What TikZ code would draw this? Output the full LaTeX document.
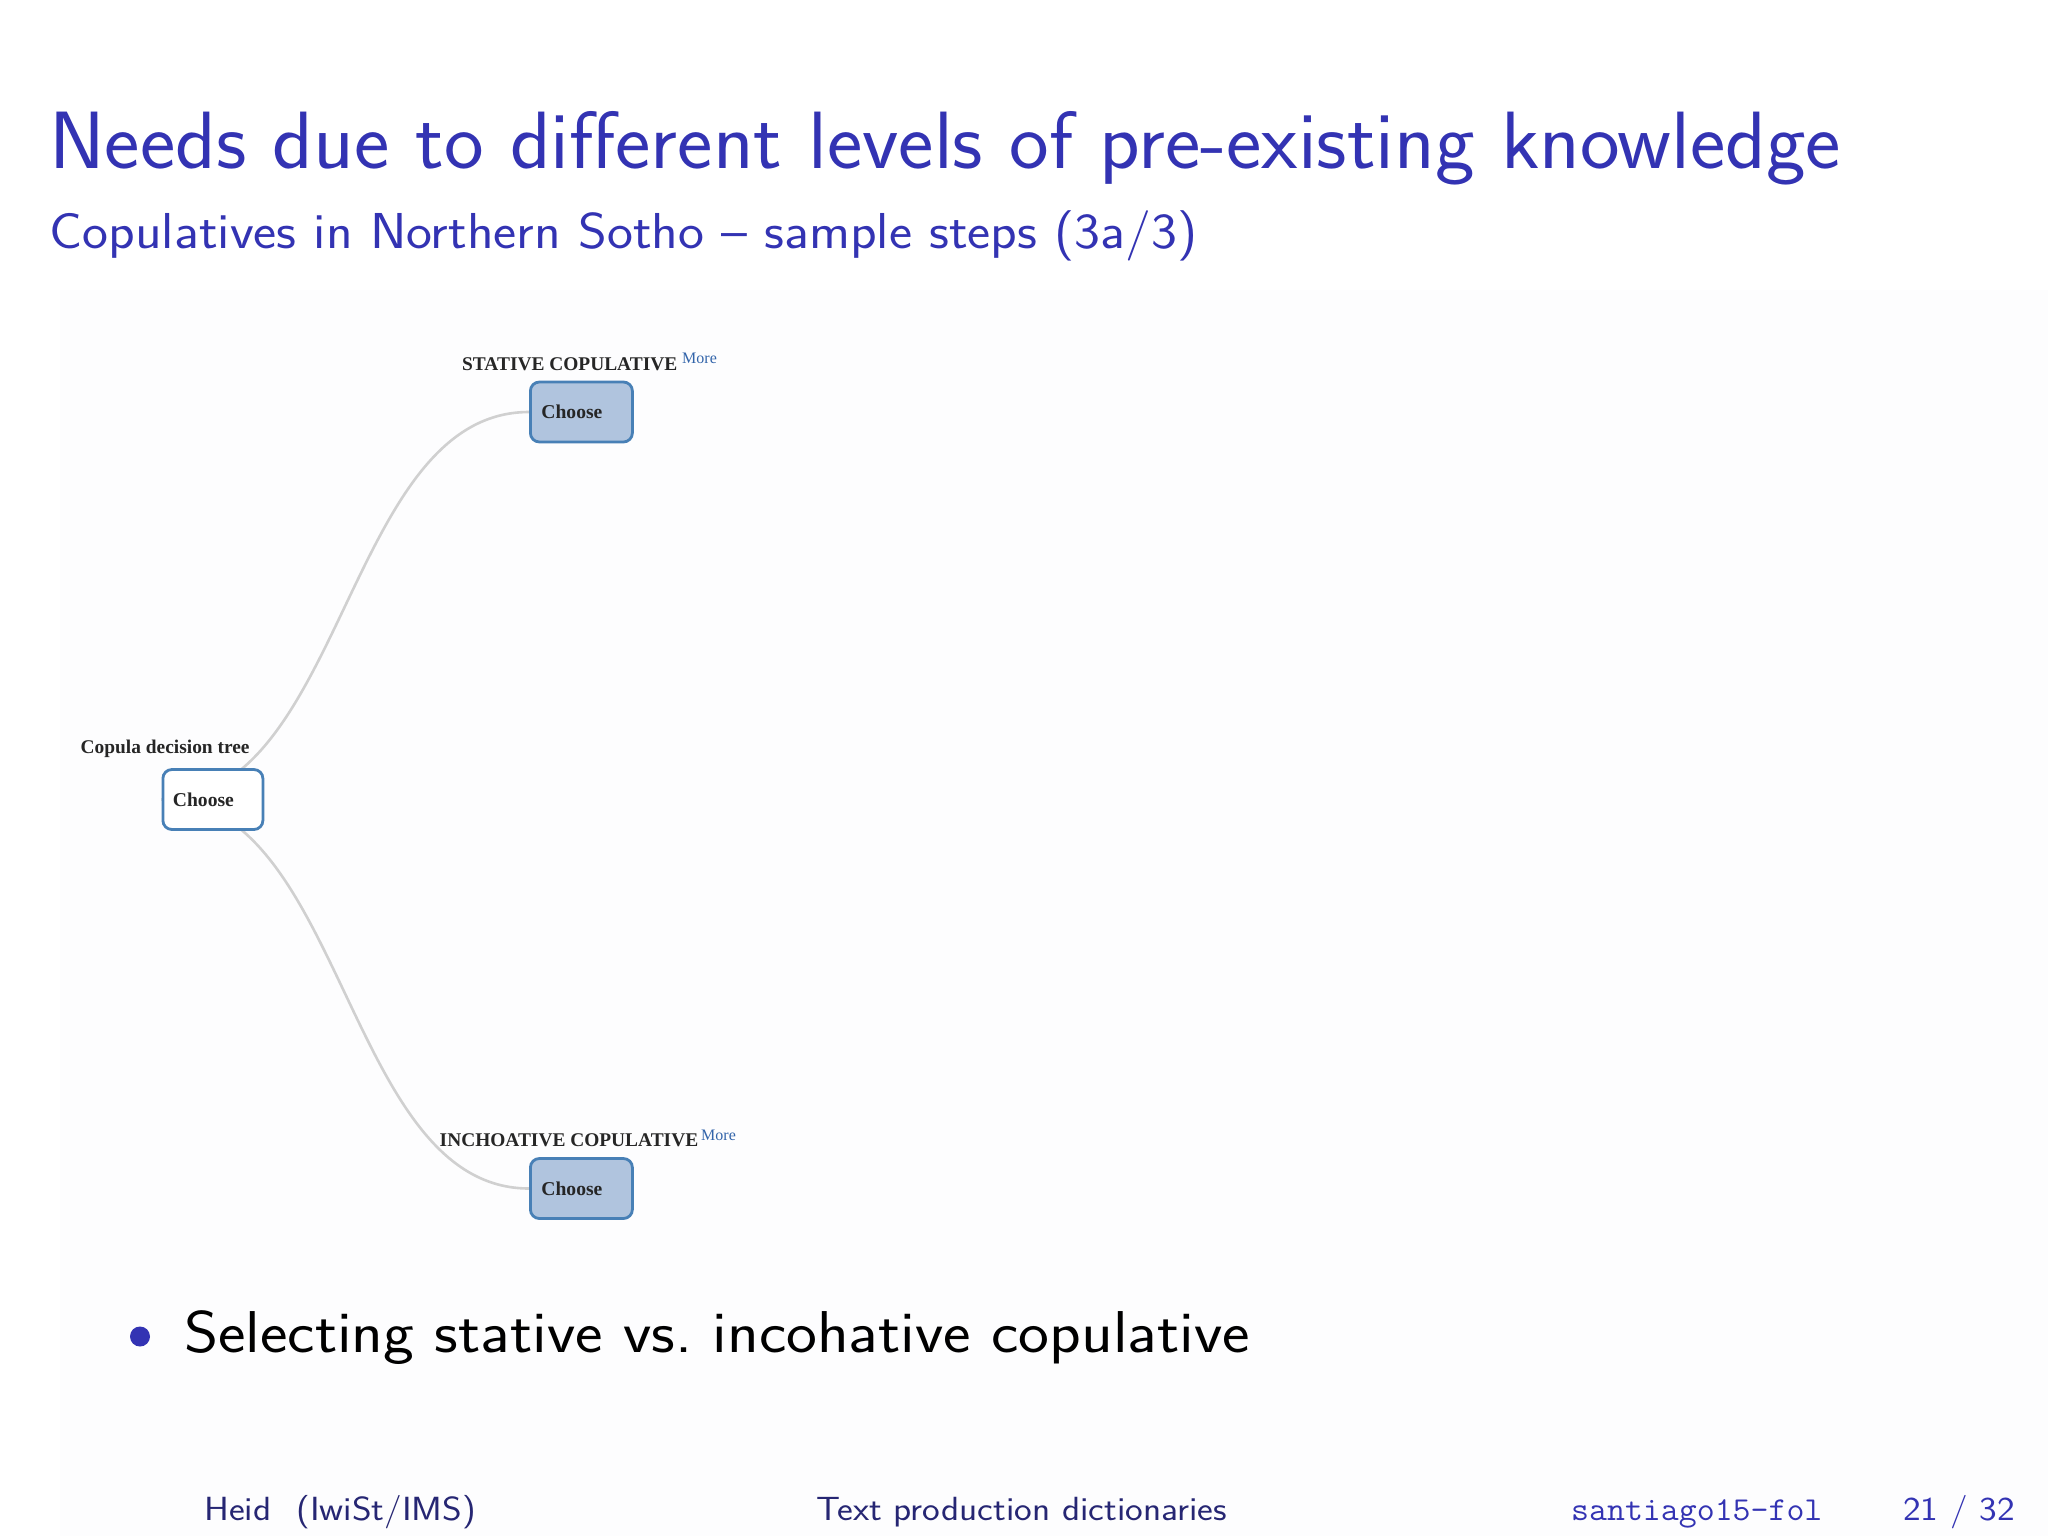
\documentclass[tikz,border=0pt]{standalone}
\usepackage{fontspec}
\newfontfamily\webfont{Liberation Serif}
\newfontfamily\sftitle[FakeStretch=1.035,Ligatures=TeX]{Latin Modern Sans}
\newfontfamily\sfsub[FakeStretch=1.09,Ligatures=TeX]{Latin Modern Sans}
\newfontfamily\sfbody[FakeStretch=1.11,Ligatures=TeX]{Latin Modern Sans}
\newfontfamily\sffoot[FakeStretch=1.12,Ligatures=TeX]{Latin Modern Sans}
\newfontfamily\ttfoot[FakeStretch=1.04]{Latin Modern Mono}
\pgfdeclarelayer{bg}
\pgfdeclarelayer{edges}
\pgfsetlayers{bg,edges,main}
\definecolor{struct}{RGB}{51,51,179}
\definecolor{footc}{RGB}{38,38,115}
\definecolor{linkc}{RGB}{208,208,208}
\definecolor{boxborder}{RGB}{72,128,182}
\definecolor{boxfill}{RGB}{176,196,222}
\definecolor{morec}{RGB}{50,100,170}
\definecolor{shotbg}{RGB}{253,253,254}
\tikzset{
  txt/.style={inner sep=0pt, anchor=base west},
  slidetitle/.style={txt, text=struct, font=\sftitle\fontsize{81.3}{90}\selectfont},
  slidesub/.style={txt, text=struct, font=\sfsub\fontsize{50.5}{56}\selectfont},
  bodytext/.style={txt, text=black, font=\sfbody\fontsize{59}{66}\selectfont},
  foottext/.style={txt, text=footc, font=\sffoot\fontsize{33.5}{38}\selectfont},
  footmono/.style={txt, text=struct, font=\ttfoot\fontsize{33.5}{38}\selectfont},
  footnum/.style={txt, text=struct, font=\sffoot\fontsize{33.5}{38}\selectfont},
  treelabel/.style={txt, text=black!85, font=\webfont\bfseries\fontsize{19.4}{22}\selectfont},
  morelink/.style={txt, text=morec, font=\webfont\fontsize{16}{18}\selectfont},
  choosebox/.style={draw=boxborder, line width=2.8pt, rounded corners=9pt,
     fill=boxfill, minimum height=60pt, text width=80pt, align=left,
     inner xsep=11pt, inner ysep=0pt, anchor=west,
     font=\webfont\bfseries\fontsize{19.6}{22}\selectfont, text=black!85},
  rootbox/.style={choosebox, fill=white, text width=80pt, inner xsep=10pt},
  link/.style={draw=linkc, line width=2.6pt}
}
\begin{document}
\begin{tikzpicture}[x=1pt,y=-1pt]
\useasboundingbox (0,0) rectangle (2048,1536);
\begin{pgfonlayer}{bg}
  \fill[white] (0,0) rectangle (2048,1536);
  \fill[shotbg] (60,290) rectangle (2048,1536);
\end{pgfonlayer}

% header
\node[slidetitle] (title) at (49,168) {Needs due to different levels of pre-existing knowledge};
\node[slidesub] (subtitle) at (49.5,248) {Copulatives in Northern Sotho – sample steps (3a/3)};

% tree
\node[rootbox] (root) at (161.5,799.5) {Choose};
\node[choosebox] (stat) at (529,412) {Choose};
\node[choosebox] (inch) at (529,1188.5) {Choose};

\node[treelabel] (rootlbl) at (80.5,753.3) {Copula decision tree};
\node[treelabel] (statlbl) at (462,370.7) {STATIVE COPULATIVE};
\node[morelink] (statmore) at (682,363) {More};
\node[treelabel] (inchlbl) at (439.5,1146.7) {INCHOATIVE COPULATIVE};
\node[morelink] (inchmore) at (701,1140) {More};

\begin{pgfonlayer}{edges}
  \draw[link] (root.west) .. controls +(183,0) and +(-183,0) .. (stat.west);
  \draw[link] (root.west) .. controls +(183,0) and +(-183,0) .. (inch.west);
\end{pgfonlayer}

% bullet
\fill[struct] (140,1336.5) circle (10);
\node[bodytext] (bullet) at (184,1352) {Selecting stative vs.\ incohative copulative};

% footer
\node[foottext] (author) at (204,1520) {Heid\hspace{0.75em}(IwiSt/IMS)};
\node[foottext] (ftitle) at (816,1520) {Text production dictionaries};
\node[footmono] (fdate) at (1571,1520) {santiago15-fol};
\node[footnum] (fpage) at (1903,1520) {21 / 32};
\end{tikzpicture}
\end{document}
